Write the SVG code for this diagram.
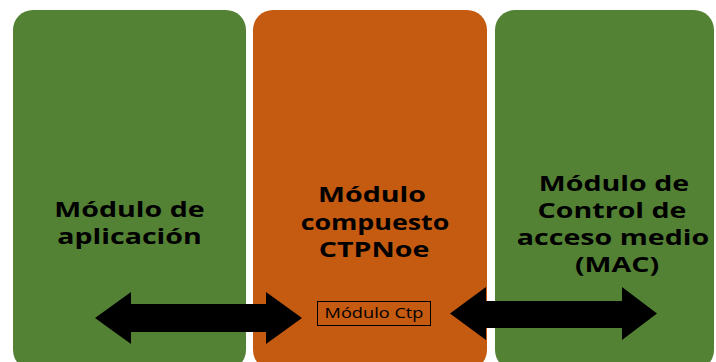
<svg xmlns="http://www.w3.org/2000/svg" width="716" height="362" viewBox="0 0 716 362">
  <style>
    .green { fill: #548235; }
    .orange { fill: #C55A11; }
    .title { font-family: "Open Sans", "Liberation Sans", sans-serif; font-weight: bold; font-size: 22px; fill: #000; text-anchor: middle; }
    .small { font-family: "Open Sans", "Liberation Sans", sans-serif; font-size: 14px; fill: #000; text-anchor: middle; }
    .arrow { fill: #000; }
  </style>
  <rect width="716" height="362" fill="#fff"/>
  <g id="node-aplicacion">
    <rect class="green" x="13" y="10" width="233" height="360" rx="20" ry="20"/>
    <text class="title" transform="translate(129.5,217) scale(1.3,1)">Módulo de</text>
    <text class="title" transform="translate(129.5,244) scale(1.3,1)">aplicación</text>
  </g>
  <g id="node-compuesto">
    <rect class="orange" x="253" y="10" width="234" height="360" rx="20" ry="20"/>
    <text class="title" transform="translate(372,202) scale(1.3,1)">Módulo</text>
    <text class="title" transform="translate(375,230) scale(1.22,1)">compuesto</text>
    <text class="title" transform="translate(374,257) scale(1.3,1)">CTPNoe</text>
  </g>
  <g id="node-ctp">
    <rect x="317.5" y="301.5" width="113" height="24" fill="none" stroke="#000" stroke-width="1"/>
    <text class="small" transform="translate(374,318) scale(1.3,1)">Módulo Ctp</text>
  </g>
  <g id="node-mac">
    <rect class="green" x="495" y="10" width="219" height="360" rx="20" ry="20"/>
    <text class="title" transform="translate(614,191) scale(1.3,1)">Módulo de</text>
    <text class="title" transform="translate(612,218) scale(1.3,1)">Control de</text>
    <text class="title" transform="translate(613,245) scale(1.3,1)">acceso medio</text>
    <text class="title" transform="translate(617,272) scale(1.3,1)">(MAC)</text>
  </g>
  <g id="connectors">
    <polygon class="arrow" points="95,318 131,292 131,304 266,304 266,292 302,318 266,344 266,332 131,332 131,344"/>
    <polygon class="arrow" points="450,313.5 486,287 486,301 622,301 622,287 657,313.5 622,340 622,328 486,328 486,340"/>
  </g>
</svg>
